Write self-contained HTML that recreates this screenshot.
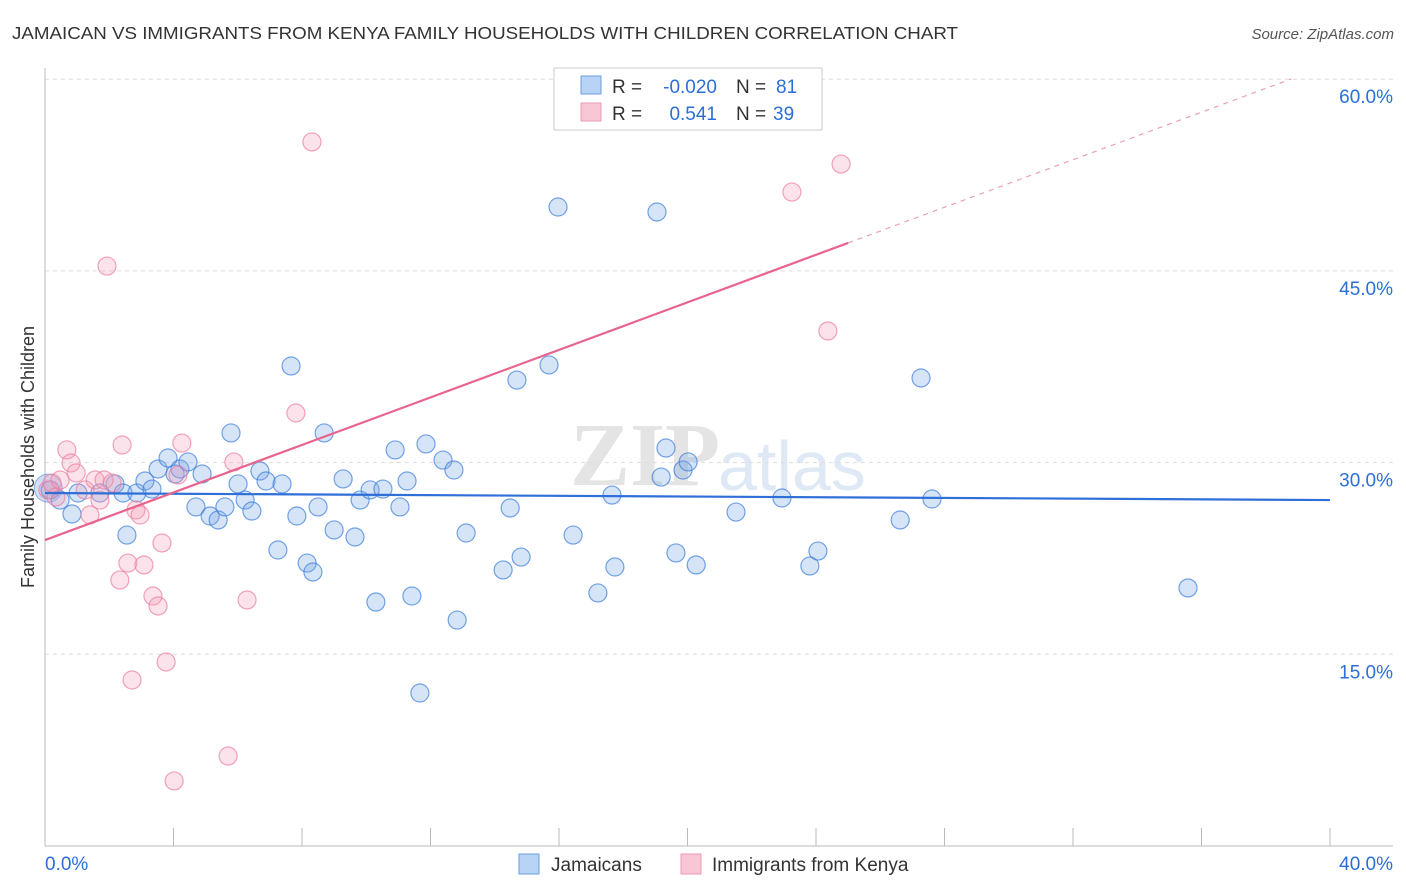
<!DOCTYPE html>
<html><head><meta charset="utf-8"><style>
body{margin:0;background:#fff;font-family:"Liberation Sans",sans-serif;}
svg{display:block}
</style></head><body>
<svg id="chart" width="1406" height="892">
<text x="12" y="39" font-size="17.5" fill="#333" textLength="946" lengthAdjust="spacingAndGlyphs">JAMAICAN VS IMMIGRANTS FROM KENYA FAMILY HOUSEHOLDS WITH CHILDREN CORRELATION CHART</text>
<text x="1394" y="39" font-size="15" fill="#555" text-anchor="end" font-style="italic">Source: ZipAtlas.com</text>
<text x="720" y="485" font-size="90" fill="#e4e4e4" text-anchor="end" font-family="Liberation Serif" font-weight="bold">ZIP</text>
<text x="718" y="490" font-size="70" fill="#dfe8f5">atlas</text>
<g id="grid"></g><g id="axes"></g><g id="pts"></g><g id="trend"></g>
<text transform="translate(34,457) rotate(-90)" font-size="18" fill="#333" text-anchor="middle">Family Households with Children</text>
<g>
<rect x="554" y="68" width="268" height="62" fill="#fff" stroke="#ccc"/>
<rect x="581" y="76" width="20" height="18" fill="#b8d3f5" stroke="#6d9de0"/>
<rect x="581" y="103" width="20" height="18" fill="#f9c6d5" stroke="#ec9ab2"/>
<text x="612" y="93" font-size="19" fill="#333">R =</text>
<text x="717" y="93" font-size="19" fill="#2b6fd6" text-anchor="end">-0.020</text>
<text x="736" y="93" font-size="19" fill="#333">N =</text>
<text x="776" y="93" font-size="19" fill="#2b6fd6">81</text>
<text x="612" y="120" font-size="19" fill="#333">R =</text>
<text x="717" y="120" font-size="19" fill="#2b6fd6" text-anchor="end">0.541</text>
<text x="736" y="120" font-size="19" fill="#333">N =</text>
<text x="773" y="120" font-size="19" fill="#2b6fd6">39</text>
</g>
<g>
<rect x="519" y="854" width="20" height="20" fill="#b8d3f5" stroke="#6d9de0"/>
<text x="551" y="871" font-size="19" fill="#333">Jamaicans</text>
<rect x="681" y="854" width="20" height="20" fill="#f9c6d5" stroke="#ec9ab2"/>
<text x="712" y="871" font-size="19" fill="#333">Immigrants from Kenya</text>
</g>
</svg>
<script>
const blueX=[0.16,0.47,0.84,1.03,1.71,2.18,2.43,2.55,2.86,3.11,3.33,3.52,3.83,4.05,4.20,4.45,4.70,4.89,5.14,5.39,5.60,5.79,6.01,6.23,6.44,6.69,6.88,7.25,7.38,7.66,7.84,8.16,8.34,8.50,8.69,9.00,9.28,9.65,9.81,10.12,10.30,10.52,10.90,11.05,11.27,11.42,11.67,11.86,12.39,12.73,12.83,13.11,14.26,14.48,14.69,14.82,15.69,15.97,16.44,17.21,17.65,17.74,19.05,19.18,19.33,19.64,19.86,20.02,20.27,21.51,22.94,23.81,24.06,26.62,27.27,27.61,35.58];
const blueY=[27.86,27.07,25.98,27.62,27.62,28.33,27.62,24.33,27.62,28.56,27.93,29.50,30.36,29.11,29.50,30.05,26.53,29.11,25.82,25.51,26.53,32.32,28.33,27.07,26.21,29.34,28.56,23.16,28.33,37.56,25.82,22.14,21.44,26.53,32.32,24.73,28.72,24.18,27.07,27.86,19.09,27.93,30.99,26.53,28.56,19.56,11.97,31.46,30.20,29.42,17.68,24.49,21.60,26.45,36.46,22.61,37.64,50.00,24.33,19.80,27.46,21.83,49.61,28.87,31.14,22.93,29.42,30.05,21.99,26.13,27.23,21.91,23.08,25.51,36.62,27.15,20.19];
const pinkX=[0.09,0.22,0.34,0.47,0.68,0.81,0.97,1.25,1.40,1.56,1.71,1.84,1.93,2.09,2.33,2.40,2.58,2.71,2.83,2.96,3.08,3.36,3.52,3.64,3.77,4.02,4.14,4.26,5.70,5.88,6.29,7.81,8.31,23.25,24.37,24.78];
const pinkY=[27.86,28.40,27.31,28.64,30.99,29.97,29.19,27.86,25.90,28.64,27.07,28.64,45.38,28.40,20.81,31.38,22.14,12.99,26.29,25.90,21.99,19.56,18.78,23.71,14.40,5.09,29.03,31.53,7.04,30.05,19.25,33.88,55.09,51.17,40.30,53.36];
const blueTrend=[27.62,27.07];
const pinkTrend=[23.94,0.93];
const yTicks=[15,30,45,60];
const NS="http://www.w3.org/2000/svg";
const X=v=>45+v/40*1285, Y=v=>846-v*12.78;
function mk(t,a,p){const e=document.createElementNS(NS,t);for(const k in a)e.setAttribute(k,a[k]);document.getElementById(p).appendChild(e);return e;}
yTicks.forEach(t=>{
 const l=mk('line',{x1:45,x2:1393,y1:Y(t),y2:Y(t),stroke:'#ddd','stroke-dasharray':'4,4'},'grid');
 
 
 const tx=mk('text',{x:1393,y:Y(t)+24,'font-size':19,fill:'#2b6fd6','text-anchor':'end'},'grid');
 tx.textContent=t.toFixed(1)+'%';
 
 
});
mk('line',{x1:45,x2:45,y1:68,y2:846,stroke:'#bbb'},'axes');
mk('line',{x1:45,x2:1393,y1:846,y2:846,stroke:'#bbb'},'axes');
for(let i=1;i<=10;i++){const tk=mk('line',{x1:X(i*4),x2:X(i*4),y1:828,y2:846,stroke:'#bbb'},'axes');
 
 }
const x0=mk('text',{x:45,y:870,'font-size':19,fill:'#2b6fd6'},'axes');x0.textContent='0.0%';


const x1=mk('text',{x:1393,y:870,'font-size':19,fill:'#2b6fd6','text-anchor':'end'},'axes');x1.textContent='40.0%';


mk('circle',{cx:X(0.1),cy:Y(28),r:14,fill:'rgba(120,165,230,0.35)',stroke:'rgba(70,130,220,0.6)'},'pts');
blueX.forEach((v,i)=>{const c=mk('circle',{cx:X(v),cy:Y(blueY[i]),r:9,fill:'rgba(120,165,230,0.3)',stroke:'rgba(60,125,220,0.7)','stroke-width':1.2},'pts');
 
 });
pinkX.forEach((v,i)=>{const c=mk('circle',{cx:X(v),cy:Y(pinkY[i]),r:9,fill:'rgba(245,160,185,0.3)',stroke:'rgba(235,125,160,0.7)','stroke-width':1.2},'pts');
 
 });
const bt=mk('line',{x1:X(0),y1:Y(blueTrend[0]),x2:X(40),y2:Y(blueTrend[1]),stroke:'#2f6fd8','stroke-width':2.2},'trend');


const pf=x=>pinkTrend[0]+pinkTrend[1]*x;
const pt=mk('line',{x1:X(0),y1:Y(pf(0)),x2:X(25),y2:Y(pf(25)),stroke:'#e8648e','stroke-width':2.2},'trend');


const pd=mk('line',{x1:X(25),y1:Y(pf(25)),x2:X(38.8),y2:Y(pf(38.8)),stroke:'#eba0b8','stroke-width':1.2,'stroke-dasharray':'5,5'},'trend');


</script>
</body></html>
